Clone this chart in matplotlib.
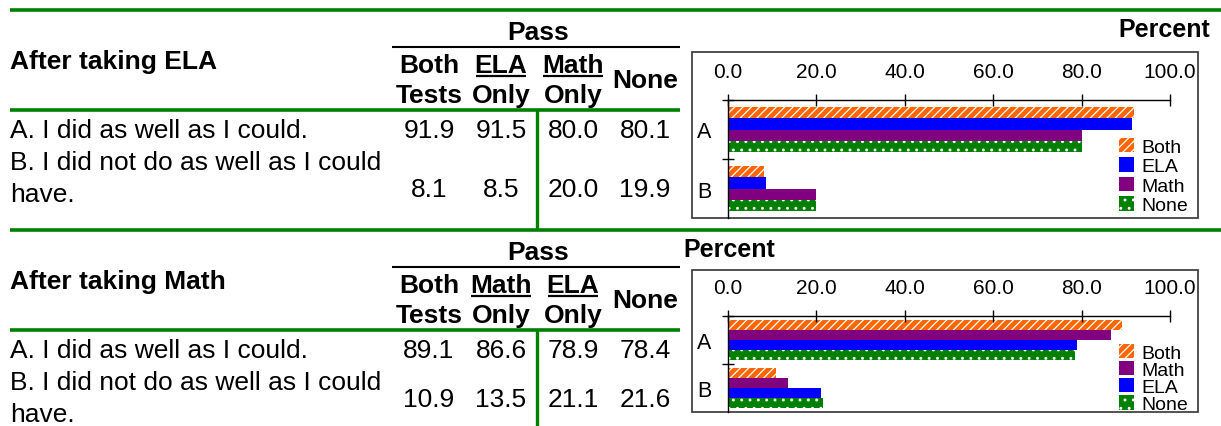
import matplotlib
matplotlib.use("Agg")
import matplotlib.pyplot as plt
from matplotlib.patches import Rectangle, Patch
import numpy as np

plt.rcParams['font.family'] = ['Liberation Sans', 'DejaVu Sans']
plt.rcParams['hatch.linewidth'] = 0.9

W, H = 1221, 427

# ---- data ----
row_labels = ["A. I did as well as I could.", "B. I did not do as well as I could\nhave."]
cat_labels = ["A", "B"]
xticks = [0, 20, 40, 60, 80, 100]

ela_title = "After taking ELA"
ela_cols = ["Both\nTests", "ELA\nOnly", "Math\nOnly", "None"]
ela_series = ["Both", "ELA", "Math", "None"]
ela_a = [91.9, 91.5, 80.0, 80.1]
ela_b = [8.1, 8.5, 20.0, 19.9]

math_title = "After taking Math"
math_cols = ["Both\nTests", "Math\nOnly", "ELA\nOnly", "None"]
math_series = ["Both", "Math", "ELA", "None"]
math_a = [89.1, 86.6, 78.9, 78.4]
math_b = [10.9, 13.5, 21.1, 21.6]

green = "#008000"
styles = {
    "Both": dict(facecolor="#FF6600", hatch="////", edgecolor="white", linewidth=0),
    "ELA": dict(facecolor="#0000FF", edgecolor="#0000FF", linewidth=0),
    "Math": dict(facecolor="#800080", edgecolor="#800080", linewidth=0),
    "None": dict(facecolor=green, hatch="..", edgecolor="white", linewidth=0),
}

fig = plt.figure(figsize=(W / 100, H / 100), dpi=100)
bg = fig.add_axes([0, 0, 1, 1])
bg.set_xlim(0, W)
bg.set_ylim(H, 0)
bg.axis("off")

col_x = [429, 501, 573, 645]
big = 19


def draw_table(y0, title, cols, vals_a, vals_b, b_base, vline_end):
    bg.plot([10, W], [y0 + 11] * 2, color=green, lw=2.6, solid_capstyle="butt")
    bg.text(10, y0 + 69, title, fontsize=big, weight="bold", va="baseline")
    bg.text(538, y0 + 40, "Pass", fontsize=big, weight="bold", ha="center", va="baseline")
    bg.plot([392, 680], [y0 + 48] * 2, color="black", lw=1.5, solid_capstyle="butt")
    for i, (x, c) in enumerate(zip(col_x, cols)):
        if "\n" in c:
            top, bottom = c.split("\n")
            t = bg.text(x, y0 + 73, top, fontsize=big, weight="bold", ha="center", va="baseline")
            bg.text(x, y0 + 103, bottom, fontsize=big, weight="bold", ha="center", va="baseline")
            if bottom == "Only":
                fig.canvas.draw()
                bb = t.get_window_extent().transformed(bg.transData.inverted())
                bg.plot([bb.x0 + 1, bb.x1 - 1], [y0 + 77] * 2, color="black", lw=1.6,
                        solid_capstyle="butt")
        else:
            bg.text(x, y0 + 88, c, fontsize=big, weight="bold", ha="center", va="baseline")
    bg.plot([10, 680], [y0 + 111] * 2, color=green, lw=2.6, solid_capstyle="butt")
    bg.plot([537, 537], [y0 + 111, vline_end], color=green, lw=2.4, solid_capstyle="butt")
    # rows
    bg.text(10, y0 + 138, row_labels[0], fontsize=big, va="baseline")
    l1, l2 = row_labels[1].split("\n")
    bg.text(10, y0 + 170, l1, fontsize=big, va="baseline")
    bg.text(10, y0 + 202, l2, fontsize=big, va="baseline")
    for x, va_, vb_ in zip(col_x, vals_a, vals_b):
        bg.text(x, y0 + 138, f"{va_:.1f}", fontsize=big, ha="center", va="baseline")
        bg.text(x, b_base, f"{vb_:.1f}", fontsize=big, ha="center", va="baseline")


def draw_chart(series, vals_a, vals_b, box_top, box_bot, axis_y, bar_h, leg_top, leg_sp):
    bg.add_patch(Rectangle((692, box_top), 506, box_bot - box_top, fill=False,
                           lw=1.2, ec="#333333"))
    ax = fig.add_axes([728 / W, 1 - box_bot / H, 442 / W, (box_bot - axis_y) / H])
    ax.set_facecolor("none")
    y = np.arange(len(cat_labels))
    for i, name in enumerate(series):
        ax.barh(y + (i - 1.5) * bar_h, [vals_a[i], vals_b[i]], height=bar_h, **styles[name])
    ax.set_xlim(0, 100)
    ax.set_ylim(1.5, -0.5)
    ax.xaxis.tick_top()
    ax.set_xticks(xticks, labels=[f"{v:.1f}" for v in xticks])
    ax.tick_params(axis="x", direction="inout", length=8, width=1, pad=10, labelsize=15)
    ax.set_yticks([-0.5, 0.5])
    ax.set_yticklabels([])
    ax.set_yticks(y, labels=cat_labels, minor=True)
    ax.tick_params(axis="y", which="major", direction="inout", length=9, width=1)
    ax.tick_params(axis="y", which="minor", length=0, pad=12, labelsize=15.5)
    for s in ("bottom", "right"):
        ax.spines[s].set_visible(False)
    for s in ("top", "left"):
        ax.spines[s].set_linewidth(1)
    handles = [Patch(label=n, **styles[n]) for n in series]
    ax.legend(handles=handles, loc="upper left", bbox_to_anchor=(1119, leg_top),
              bbox_transform=bg.transData, frameon=False, fontsize=14, borderpad=0,
              borderaxespad=0, handlelength=0.75, handleheight=0.75, handletextpad=0.4,
              labelspacing=leg_sp)
    return ax


draw_table(0, ela_title, ela_cols, ela_a, ela_b, 197, 231)
draw_chart(ela_series, ela_a, ela_b, 53, 219, 101, 0.19, 139, 0.08)
bg.text(1210, 37, "Percent", fontsize=18, weight="bold", ha="right", va="baseline")

draw_table(220, math_title, math_cols, math_a, math_b, 407, 427)
draw_chart(math_series, math_a, math_b, 271, 413, 317, 0.205, 345, -0.04)
bg.text(683, 257, "Percent", fontsize=18, weight="bold", ha="left", va="baseline")

fig.savefig("out.png", dpi=100)
